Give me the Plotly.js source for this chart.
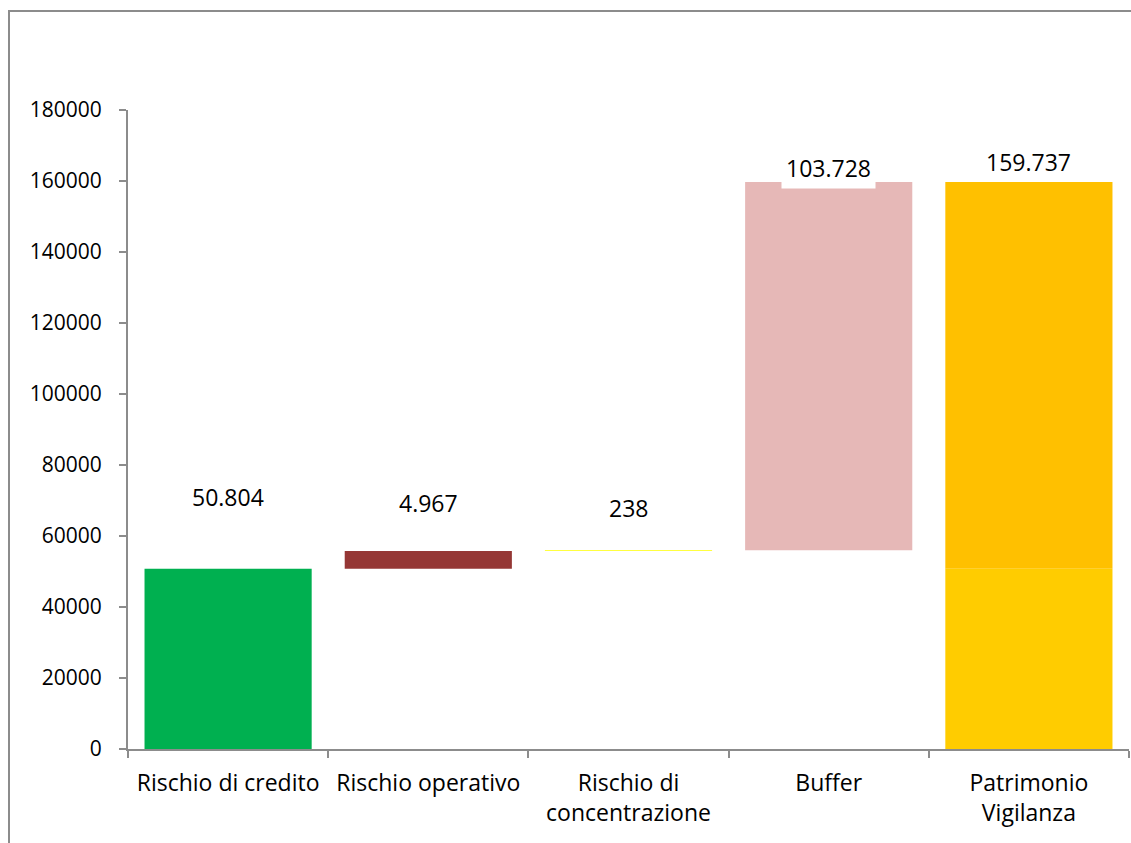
<!DOCTYPE html>
<html>
<head>
<meta charset="utf-8">
<script src="https://cdn.plot.ly/plotly-3.0.1.min.js"></script>
<style>
  html, body { margin: 0; padding: 0; background: #fff; }
  #wrap { position: relative; width: 1131px; height: 843px; overflow: hidden; }
  #chart { position: absolute; left: 0; top: 0; width: 1131px; height: 843px; }
  #frame { position: absolute; left: 8px; top: 10px; width: 1200px; height: 900px;
           border-left: 2px solid #8c8c8c; border-top: 2px solid #8c8c8c; pointer-events: none; }
</style>
</head>
<body>
<div id="wrap">
  <div id="chart"></div>
  <div id="frame"></div>
</div>
<script>
// ---- data ----
var categories = ["Rischio di credito", "Rischio operativo", "Rischio di<br>concentrazione", "Buffer", "Patrimonio<br>Vigilanza"];
var values = [50804, 4967, 238, 103728, 159737];
var valueLabels = ["50.804", "4.967", "238", "103.728", "159.737"];
var yTicks = [0, 20000, 40000, 60000, 80000, 100000, 120000, 140000, 160000, 180000];

// ---- styles ----
var colors = ["#00B050", "#953735", "#FFFF00", "#E6B8B7", "#FFC000"];
var totalLowerColor = "#FFCC00";
var labelShift = [72, 48, 42, 14, 20];
var FONT = "'Open Sans', 'Noto Sans', sans-serif";

// bases: running cumulative for components, total starts at 0
var bases = [];
var run = 0;
for (var i = 0; i < values.length - 1; i++) { bases.push(run); run += values[i]; }
bases.push(0);

// components (first four) + upper part of total
var mainY = values.slice(0, 4).concat([values[4] - values[0]]);
var mainBase = bases.slice(0, 4).concat([values[0]]);

var traces = [
  {
    type: "bar", x: categories, y: mainY, base: mainBase,
    marker: { color: colors, line: { width: 0 } },
    width: 0.835, hoverinfo: "skip", showlegend: false
  },
  {
    type: "bar", x: [categories[4]], y: [values[0]], base: [0],
    marker: { color: totalLowerColor, line: { width: 0 } },
    width: 0.835, hoverinfo: "skip", showlegend: false
  }
];

var annotations = categories.map(function (c, i) {
  var top = (i === 4) ? values[4] : bases[i] + values[i];
  var a = {
    x: c, y: top, xref: "x", yref: "y", text: valueLabels[i], showarrow: false,
    yanchor: "middle", yshift: labelShift[i],
    font: { family: FONT, size: 23, color: "#000" }
  };
  if (i === 3) { a.bgcolor = "#ffffff"; a.borderpad = 4; }
  return a;
});

var layout = {
  width: 1131, height: 843,
  margin: { l: 128, r: 2, t: 110, b: 94 },
  paper_bgcolor: "rgba(0,0,0,0)", plot_bgcolor: "#fff",
  barmode: "overlay",
  font: { family: FONT, size: 21, color: "#000" },
  xaxis: {
    type: "category", showgrid: false, zeroline: false,
    showline: true, linecolor: "#8c8c8c", linewidth: 2,
    ticks: "outside", tickson: "boundaries", ticklen: 7, tickcolor: "#8c8c8c", tickwidth: 2,
    ticklabelstandoff: 12,
    tickfont: { family: FONT, size: 23, color: "#000" },
    fixedrange: true
  },
  yaxis: {
    range: [0, 180000], tickvals: yTicks, ticktext: yTicks.map(String),
    showgrid: false, zeroline: false,
    showline: true, linecolor: "#8c8c8c", linewidth: 2,
    ticks: "outside", ticklen: 7, tickcolor: "#8c8c8c", tickwidth: 2,
    ticklabelstandoff: 13,
    tickfont: { family: FONT, size: 21, color: "#000" },
    fixedrange: true
  },
  annotations: annotations
};

Plotly.newPlot("chart", traces, layout, { displayModeBar: false, staticPlot: true });
</script>
</body>
</html>
